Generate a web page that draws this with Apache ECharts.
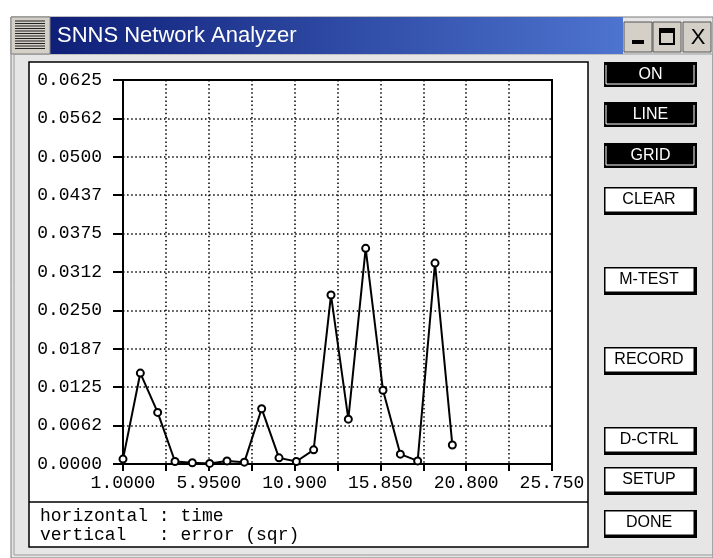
<!DOCTYPE html>
<html>
<head>
<meta charset="utf-8">
<title>SNNS Network Analyzer</title>
<script src="https://cdn.jsdelivr.net/npm/echarts@6/dist/echarts.min.js"></script>
<style>
  html, body { margin: 0; padding: 0; background: #fff; }
  #chart { width: 713px; height: 558px; }
</style>
</head>
<body>
<div id="chart"></div>
<script>
// error curve
const times = [1, 2, 3, 4, 5, 6, 7, 8, 9, 10, 11, 12, 13, 14, 15, 16, 17, 18, 19, 20];
const errors = [0.0008, 0.0148, 0.0084, 0.0004, 0.0002, 0.0001, 0.0005, 0.0003, 0.0090, 0.0010,
                0.0004, 0.0023, 0.0275, 0.0073, 0.0351, 0.0120, 0.0016, 0.0005, 0.0327, 0.0031];

const xTickLabels = ["1.0000", "5.9500", "10.900", "15.850", "20.800", "25.750"];
const yTickLabels = ["0.0000", "0.0062", "0.0125", "0.0187", "0.0250", "0.0312",
                     "0.0375", "0.0437", "0.0500", "0.0562", "0.0625"];

const buttonLabels = ["ON", "LINE", "GRID", "CLEAR", "M-TEST", "RECORD", "D-CTRL", "SETUP", "DONE"];
const buttonOn = [true, true, true, false, false, false, false, false, false];

const axisNotes = ["horizontal : time", "vertical   : error (sqr)"];

// x axis runs 1.0 .. 25.75 in steps of 2.475; shifted so ticks start at 0
const xStart = 1, xStep = 2.475, xSpan = 24.75;
const yStep = 0.00625, yMax = 0.0625;

const MONO = "'Liberation Mono', 'DejaVu Sans Mono', monospace";
const SANS = "'Liberation Sans', Arial, sans-serif";

const chart = echarts.init(document.getElementById("chart"), null, { renderer: "canvas" });

function chrome() {
  const els = [];
  // window body
  els.push({ type: "rect", z: -20, shape: { x: 11, y: 17, width: 702, height: 541 },
             style: { fill: "#e6e6e6", stroke: "#7a7a7a", lineWidth: 1 } });
  els.push({ type: "rect", z: -19, shape: { x: 14, y: 54, width: 699, height: 501 },
             style: { fill: "none", stroke: "#9a9a9a", lineWidth: 1 } });
  // title bar
  els.push({ type: "rect", z: -18, shape: { x: 50, y: 17, width: 573, height: 37 },
             style: { fill: { type: "linear", x: 0, y: 0, x2: 1, y2: 0,
               colorStops: [{ offset: 0, color: "#0f1f78" }, { offset: 1, color: "#4d74cf" }] } } });
  els.push({ type: "text", z: -17, style: { text: "SNNS Network Analyzer", x: 57, y: 36,
             fill: "#fff", font: "22px " + SANS, verticalAlign: "middle" } });
  // menu icon
  els.push({ type: "rect", z: -18, shape: { x: 11, y: 17, width: 39, height: 37 },
             style: { fill: "#d4d0c8", stroke: "#808080", lineWidth: 1 } });
  for (let y = 21; y <= 50; y += 2.5) {
    els.push({ type: "line", z: -17, shape: { x1: 15, y1: y, x2: 45, y2: y },
               style: { stroke: "#222", lineWidth: 1 } });
  }
  // title buttons
  [624, 653, 683].forEach((x, i) => {
    els.push({ type: "rect", z: -18, shape: { x: x, y: 22, width: 28, height: 30 },
               style: { fill: "#d4d0c8", stroke: "#555", lineWidth: 1 } });
    if (i === 0) els.push({ type: "rect", z: -17, shape: { x: x + 8, y: 40, width: 12, height: 4 }, style: { fill: "#000" } });
    if (i === 1) els.push({ type: "rect", z: -17, shape: { x: x + 7, y: 29, width: 14, height: 15 },
                            style: { fill: "none", stroke: "#000", lineWidth: 2 } });
    if (i === 1) els.push({ type: "rect", z: -17, shape: { x: x + 7, y: 29, width: 14, height: 4 }, style: { fill: "#000" } });
    if (i === 2) els.push({ type: "text", z: -17, style: { text: "X", x: x + 15, y: 38, fill: "#000",
                            font: "22px " + SANS, align: "center", verticalAlign: "middle" } });
  });
  // drawing panel
  els.push({ type: "rect", z: -16, shape: { x: 29, y: 62, width: 559, height: 485 },
             style: { fill: "#fff", stroke: "#000", lineWidth: 1.5 } });
  els.push({ type: "line", z: -15, shape: { x1: 29, y1: 502, x2: 588, y2: 502 },
             style: { stroke: "#000", lineWidth: 1.5 } });
  axisNotes.forEach((t, i) => {
    els.push({ type: "text", z: -15, style: { text: t, x: 40, y: 516 + i * 19, fill: "#000",
               font: "18px " + MONO, verticalAlign: "middle" } });
  });
  // control buttons
  const tops = [62, 102, 143, 187, 267, 347, 427, 467, 510];
  buttonLabels.forEach((label, i) => {
    const y = tops[i], x = 604, w = 93, h = buttonOn[i] ? 25 : 28;
    els.push({ type: "rect", z: -15, shape: { x: x, y: y, width: w, height: h }, style: { fill: "#000" } });
    if (buttonOn[i]) {
      els.push({ type: "polyline", z: -14, shape: { points: [[x + 2, y + 3], [x + 2, y + h - 3], [x + w - 3, y + h - 3], [x + w - 3, y + 3]] },
                 style: { stroke: "#fff", lineWidth: 1, fill: "none" } });
    } else {
      els.push({ type: "rect", z: -14, shape: { x: x + 1.5, y: y + 1.5, width: w - 5, height: h - 5 }, style: { fill: "#fff" } });
    }
    els.push({ type: "text", z: -13, style: { text: label, x: x + (buttonOn[i] ? w / 2 : (w - 3) / 2), y: y + h / 2 - (buttonOn[i] ? 0 : 1),
               fill: buttonOn[i] ? "#fff" : "#000", font: "16px " + SANS, align: "center", verticalAlign: "middle" } });
  });
  return els;
}

const dotted = { color: "#000", width: 1.5, type: [1.5, 2.6] };

chart.setOption({
  animation: false,
  backgroundColor: "#fff",
  graphic: { elements: chrome() },
  grid: { left: 123, top: 80, width: 429, height: 384, show: true,
          borderColor: "#000", borderWidth: 2, backgroundColor: "transparent" },
  xAxis: {
    type: "value", min: 0, max: xSpan, interval: xStep,
    axisLine: { onZero: false, lineStyle: { color: "#000", width: 2 } },
    axisTick: { length: 7, lineStyle: { color: "#000", width: 2 } },
    axisLabel: {
      margin: 10, color: "#000", fontFamily: MONO, fontSize: 18,
      formatter: (v) => {
        const i = Math.round(v / xStep);
        return i % 2 === 0 ? (xTickLabels[i / 2] || "") : "";
      },
    },
    splitLine: { show: true, lineStyle: dotted },
  },
  yAxis: {
    type: "value", min: 0, max: yMax, interval: yStep,
    axisLine: { show: true, lineStyle: { color: "#000", width: 2 } },
    axisTick: { show: true, length: 10, lineStyle: { color: "#000", width: 2 } },
    axisLabel: {
      margin: 21, color: "#000", fontFamily: MONO, fontSize: 18,
      formatter: (v) => yTickLabels[Math.round(v / yStep)] || "",
    },
    splitLine: { show: true, lineStyle: dotted },
  },
  series: [{
    type: "line",
    data: times.map((t, i) => [t - xStart, errors[i]]),
    symbol: "emptyCircle", symbolSize: 7, showAllSymbol: true,
    itemStyle: { color: "#000", borderWidth: 1.5 },
    lineStyle: { color: "#000", width: 2 },
    z: 5,
  }],
});
</script>
</body>
</html>
